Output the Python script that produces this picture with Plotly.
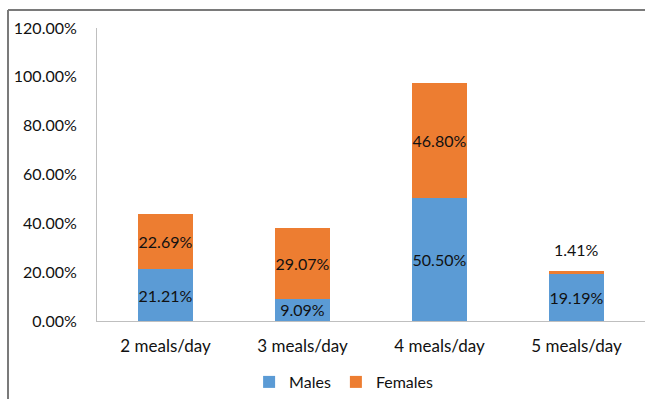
import plotly.graph_objects as go

categories = ["2 meals/day", "3 meals/day", "4 meals/day", "5 meals/day"]
males = [21.21, 9.09, 50.50, 19.19]
females = [22.69, 29.07, 46.80, 1.41]
y_ticks = [0, 20, 40, 60, 80, 100, 120]
# segments too thin to hold their label get it written above the stack
outside_label = [False, False, False, True]

FONT = "Lato, 'Open Sans', sans-serif"
BLUE = "#5B9BD5"
ORANGE = "#ED7D31"
TEXT = "#111111"

def pct(v):
    return f"{v:.2f}%"

fig = go.Figure()
fig.add_trace(go.Bar(
    name="Males", x=categories, y=[v / 100 for v in males],
    marker=dict(color=BLUE, line=dict(width=0)),
    text=[pct(v) for v in males], textposition="inside",
    insidetextanchor="middle", textangle=0, constraintext="none",
    insidetextfont=dict(color=TEXT, size=16, family=FONT),
))
fig.add_trace(go.Bar(
    name="Females", x=categories, y=[v / 100 for v in females],
    marker=dict(color=ORANGE, line=dict(width=0)),
    text=["" if o else pct(v) for v, o in zip(females, outside_label)],
    textposition="inside",
    insidetextanchor="middle", textangle=0, constraintext="none",
    insidetextfont=dict(color=TEXT, size=16, family=FONT),
))

for cat, m, f, o in zip(categories, males, females, outside_label):
    if o:
        fig.add_annotation(x=cat, y=(m + f) / 100, text=pct(f),
                           showarrow=False, yanchor="bottom", yshift=10,
                           font=dict(color=TEXT, size=16, family=FONT))

# outer frame of the chart panel (left and top edges)
frame = dict(color="#7a7a7a", width=2)
fig.add_shape(type="line", xref="paper", yref="paper",
              x0=-0.1624, x1=-0.1624, y0=-0.4, y1=1.0612, line=frame)
fig.add_shape(type="line", xref="paper", yref="paper",
              x0=-0.1624, x1=1.05, y0=1.0612, y1=1.0612, line=frame)

fig.update_layout(
    width=645, height=399,
    margin=dict(l=97, r=0, t=28, b=77),
    barmode="stack", bargap=0.6,
    plot_bgcolor="white", paper_bgcolor="white",
    font=dict(family=FONT, size=16, color=TEXT),
    showlegend=True,
    legend=dict(orientation="h", x=0.45, xanchor="center", y=-0.207,
                yanchor="middle", font=dict(size=16, family=FONT),
                itemwidth=30, traceorder="normal"),
    xaxis=dict(showline=True, linecolor="#BFBFBF", linewidth=1,
               ticks="", showgrid=False, ticklabelstandoff=10,
               tickfont=dict(size=17, family=FONT, color=TEXT)),
    yaxis=dict(range=[0, 1.2], tickvals=[v / 100 for v in y_ticks],
               ticktext=[f"{v:.2f}%" for v in y_ticks],
               showline=True, linecolor="#BFBFBF", linewidth=1,
               showgrid=False, zeroline=False, ticks="",
               ticklabelstandoff=16),
)

fig.write_html("out.html")
